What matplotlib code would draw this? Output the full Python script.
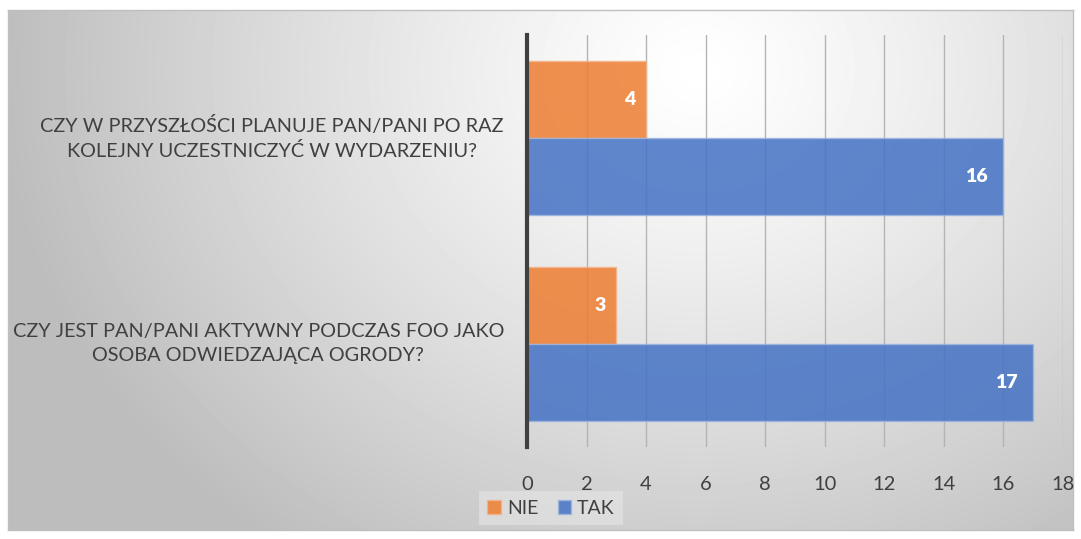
import numpy as np
import matplotlib
matplotlib.use('Agg')
import matplotlib.pyplot as plt
from matplotlib.patches import Rectangle

plt.rcParams['font.family'] = ['Lato', 'DejaVu Sans']

categories = [
    'CZY W PRZYSZŁOŚCI PLANUJE PAN/PANI PO RAZ\nKOLEJNY UCZESTNICZYĆ W WYDARZENIU?',
    'CZY JEST PAN/PANI AKTYWNY PODCZAS FOO JAKO\nOSOBA ODWIEDZAJĄCA OGRODY?',
]
nie = [4, 3]
tak = [16, 17]
xticks = [0, 2, 4, 6, 8, 10, 12, 14, 16, 18]

ORANGE = '#ED7D31'
BLUE = '#4472C4'
TEXT = '#404040'

W, H = 1081, 539
fig = plt.figure(figsize=(W / 100, H / 100), dpi=100, facecolor='white')

# radial gradient background (white centre, grey edges)
bg = fig.add_axes([8 / W, 1 - 530 / H, (1073 - 8) / W, (530 - 10) / H])
yy, xx = np.mgrid[0:520, 0:1065]
d = np.sqrt(((xx - 690) / 1.0) ** 2 + ((yy - 60) / 0.85) ** 2)
shade = 1.0 - 0.26 * np.clip(d / 700, 0, 1) ** 1.2
bg.imshow(shade, cmap='gray', vmin=0, vmax=1, aspect='auto', interpolation='bilinear')
bg.set_xticks([])
bg.set_yticks([])
for sp in bg.spines.values():
    sp.set_edgecolor('#bfbfbf')
    sp.set_linewidth(1)

ax = fig.add_axes([527 / W, 1 - 447 / H, (1063 - 527) / W, (447 - 35) / H])
ax.patch.set_alpha(0)

h = 0.375
y = np.arange(len(categories))
ax.barh(y - h / 2, nie, height=h, color=ORANGE, alpha=0.85, edgecolor='#f5b48a', linewidth=1, zorder=3)
ax.barh(y + h / 2, tak, height=h, color=BLUE, alpha=0.85, edgecolor='#9db5e0', linewidth=1, zorder=3)

for i in range(len(categories)):
    ax.text(nie[i] - 0.55, y[i] - h / 2, str(nie[i]), color='white', fontsize=14,
            fontweight='heavy', ha='center', va='center', zorder=4)
    ax.text(tak[i] - 0.9, y[i] + h / 2, str(tak[i]), color='white', fontsize=14,
            fontweight='heavy', ha='center', va='center', zorder=4)

ax.set_xlim(0, 18)
ax.set_ylim(-0.5, 1.5)
ax.invert_yaxis()
ax.set_xticks(xticks)
ax.set_xticklabels([str(t) for t in xticks])
ax.xaxis.grid(True, color='#b4b4b4', linewidth=1, zorder=0)
ax.set_axisbelow(True)
ax.tick_params(axis='x', length=0, pad=21, labelsize=14.5, labelcolor=TEXT)
ax.set_yticks([])
for s in ['top', 'right', 'bottom']:
    ax.spines[s].set_visible(False)
ax.spines['left'].set_color('#404040')
ax.spines['left'].set_linewidth(3)
ax.spines['left'].set_zorder(5)

# category labels: centred lines, right edge about 22 px left of the axis
for i, c in enumerate(categories):
    ax.annotate(c, xy=(0, y[i]), xycoords='data', xytext=(-23, 0), textcoords='offset pixels',
                ha='right', va='center', multialignment='center', fontsize=14.3,
                color=TEXT, linespacing=1.5)

handles = [Rectangle((0, 0), 1, 1, facecolor=ORANGE, alpha=0.85, edgecolor='#f5b48a'),
           Rectangle((0, 0), 1, 1, facecolor=BLUE, alpha=0.85, edgecolor='#9db5e0')]
leg = fig.legend(handles, ['NIE', 'TAK'], loc='center', bbox_to_anchor=(551 / W, 1 - 508 / H),
                 ncol=2, frameon=True, fontsize=14, handlelength=0.7, handleheight=0.7,
                 handletextpad=0.3, columnspacing=1.0, borderpad=0.45, fancybox=False)
leg.get_frame().set_facecolor('#e6e6e6')
leg.get_frame().set_alpha(0.6)
leg.get_frame().set_linewidth(0)
for t in leg.get_texts():
    t.set_color(TEXT)

fig.savefig('out.png', dpi=100, facecolor='white')
